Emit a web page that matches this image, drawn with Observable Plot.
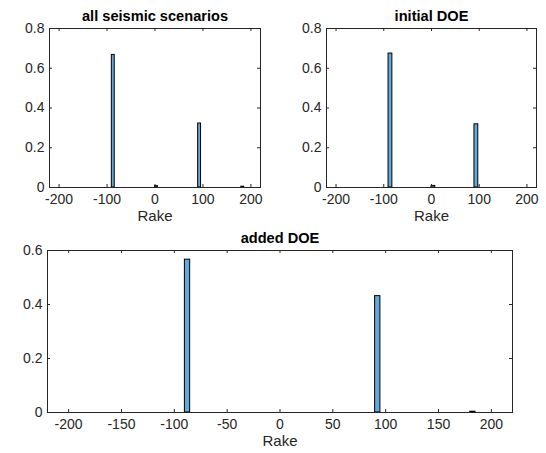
<!DOCTYPE html>
<html>
<head>
<meta charset="utf-8">
<script src="https://cdn.jsdelivr.net/npm/d3@7"></script>
<script src="https://cdn.jsdelivr.net/npm/@observablehq/plot@0.6"></script>
<style>
  body { margin: 0; background: #fff; }
  #fig { position: relative; width: 546px; height: 453px; overflow: hidden; background: #fff; }
  #fig > svg { position: absolute; }
</style>
</head>
<body>
<div id="fig"></div>
<script>
// Rake histograms (probability-normalised); each bin is given by its left edge
const allRake = [-90, 0, 90, 180];
const allProb = [0.667, 0.007, 0.322, 0.004];
const allBinWidth = 6;

const initialRake = [-90, 0, 90];
const initialProb = [0.674, 0.008, 0.318];
const initialBinWidth = 8;

const addedRake = [-90, 90, 180];
const addedProb = [0.566, 0.431, 0.003];
const addedBinWidth = 5;

const rakeLimits = [-220, 220];
const topRakeTicks = [-200, -100, 0, 100, 200];
const bottomRakeTicks = [-200, -150, -100, -50, 0, 50, 100, 150, 200];
const topProbTicks = [0, 0.2, 0.4, 0.6, 0.8];
const bottomProbTicks = [0, 0.2, 0.4, 0.6];

const axisColor = "#262626";
const barFill = "#66a9d8";
const fontFamily = "Arial, 'Liberation Sans', Helvetica, sans-serif";
const fmt = d => String(d);

function panel({rake, prob, binWidth, title, xTicks, yTicks, width, height, margin}) {
  const bins = rake.map((r, i) => ({x1: r, x2: r + binWidth, p: prob[i]}));
  const innerW = width - margin.left - margin.right;
  const innerH = height - margin.top - margin.bottom;
  const tick = 3;
  return Plot.plot({
    width, height,
    marginLeft: margin.left, marginRight: margin.right,
    marginTop: margin.top, marginBottom: margin.bottom,
    x: {domain: rakeLimits},
    y: {domain: [0, yTicks[yTicks.length - 1]]},
    style: {fontFamily, fontSize: "14px", color: axisColor, background: "transparent", overflow: "visible"},
    marks: [
      Plot.rect(bins, {x1: "x1", x2: "x2", y1: () => 0, y2: "p", fill: barFill, stroke: "#000", strokeWidth: 1}),
      Plot.frame({stroke: axisColor}),
      // inward tick marks on all four sides of the box
      Plot.tickX(xTicks, {x: d => d, stroke: axisColor, insetTop: innerH - tick}),
      Plot.tickX(xTicks, {x: d => d, stroke: axisColor, insetBottom: innerH - tick}),
      Plot.tickY(yTicks, {y: d => d, stroke: axisColor, insetRight: innerW - tick}),
      Plot.tickY(yTicks, {y: d => d, stroke: axisColor, insetLeft: innerW - tick}),
      Plot.axisX(xTicks, {tickSize: 0, tickPadding: 7, tickFormat: fmt, fontSize: 14, label: null, fill: axisColor}),
      Plot.axisY(yTicks, {tickSize: 0, tickPadding: 5, tickFormat: fmt, fontSize: 14, label: null, fill: axisColor}),
      Plot.text(["Rake"], {text: d => d, frameAnchor: "bottom", dy: 29, fontSize: 15, lineAnchor: "middle", fill: axisColor}),
      Plot.text([title], {text: d => d, frameAnchor: "top", dy: -12, fontSize: 14.6, fontWeight: "bold", lineAnchor: "middle", fill: "#000"})
    ]
  });
}

const fig = document.getElementById("fig");

const topLeft = panel({
  rake: allRake, prob: allProb, binWidth: allBinWidth, title: "all seismic scenarios",
  xTicks: topRakeTicks, yTicks: topProbTicks,
  width: 273, height: 226, margin: {left: 49, right: 13, top: 28, bottom: 39}
});
topLeft.style.left = "0px"; topLeft.style.top = "0px";

const topRight = panel({
  rake: initialRake, prob: initialProb, binWidth: initialBinWidth, title: "initial DOE",
  xTicks: topRakeTicks, yTicks: topProbTicks,
  width: 273, height: 226, margin: {left: 53, right: 10, top: 28, bottom: 39}
});
topRight.style.left = "273px"; topRight.style.top = "0px";

const bottom = panel({
  rake: addedRake, prob: addedProb, binWidth: addedBinWidth, title: "added DOE",
  xTicks: bottomRakeTicks, yTicks: bottomProbTicks,
  width: 546, height: 227, margin: {left: 47, right: 34, top: 24, bottom: 41}
});
bottom.style.left = "0px"; bottom.style.top = "226px";

fig.append(topLeft, topRight, bottom);
</script>
</body>
</html>
